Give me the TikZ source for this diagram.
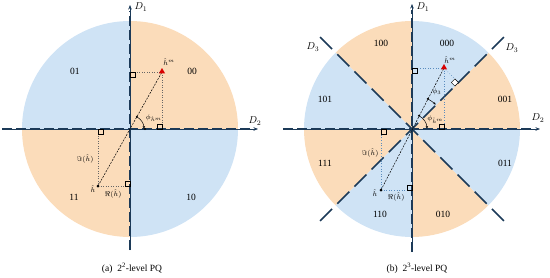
\documentclass[tikz,border=0pt]{standalone}
\usepackage{fontspec}
\setmainfont{Liberation Serif}
\usetikzlibrary{arrows.meta,shapes.geometric}
\definecolor{qblue}{RGB}{207,227,245}
\definecolor{qorange}{RGB}{251,220,186}
\definecolor{axcol}{RGB}{28,58,88}
\definecolor{projblue}{RGB}{90,140,190}
\tikzset{
  axisline/.style={axcol, line width=0.5pt, -{Stealth[length=4.5pt,width=3.5pt]}},
  axisdash/.style={axcol, line width=1.5pt, dash pattern=on 10pt off 4pt, shorten >=6pt},
  dline/.style={axcol, line width=1.5pt, dash pattern=on 17pt off 7.3pt},
  proj/.style={gray!80!black, dotted, line width=0.5pt},
  projb/.style={projblue, dotted, line width=0.6pt},
  vec/.style={black, dash pattern=on 2pt off 1.2pt, line width=0.5pt},
  sq/.style={draw=black, line width=0.4pt},
  lbl/.style={font=\fontsize{9.5}{10}\selectfont, inner sep=0pt},
  sml/.style={font=\fontsize{7.5}{8}\selectfont, inner sep=0pt},
  axl/.style={font=\fontsize{10}{11}\selectfont, inner sep=0pt},
  tri/.style={regular polygon, regular polygon sides=3, fill=red!85!black, minimum size=7pt, inner sep=0pt},
  dotn/.style={circle, fill=black, minimum size=3pt, inner sep=0pt},
  adot/.style={circle, fill=black, minimum size=2.2pt, inner sep=0pt},
  angarr/.style={black, line width=0.5pt, -{Stealth[length=2.5pt,width=2.5pt]}}
}
\begin{document}
\begin{tikzpicture}[x=1pt,y=1pt]
\useasboundingbox (0,0) rectangle (550,277);
% ---------------- left panel ----------------
\begin{scope}[shift={(130,148)}]
  \fill[qorange] (0,0) -- (0:108pt) arc[start angle=0,end angle=90,radius=108pt] -- cycle;
  \fill[qblue] (0,0) -- (90:108pt) arc[start angle=90,end angle=180,radius=108pt] -- cycle;
  \fill[qorange] (0,0) -- (180:108pt) arc[start angle=180,end angle=270,radius=108pt] -- cycle;
  \fill[qblue] (0,0) -- (270:108pt) arc[start angle=270,end angle=360,radius=108pt] -- cycle;
  \coordinate (LO) at (0,0);
  \coordinate (Lxl) at (-128,0);
  \coordinate (Lxr) at (128,0);
  \coordinate (Lyb) at (0,-121);
  \coordinate (Lyt) at (0,124);
  \draw[axisline] (Lxl) -- (Lxr);
  \draw[axisline] (Lyb) -- (Lyt);
  \draw[axisdash] (Lxl) -- (Lxr);
  \draw[axisdash] (Lyb) -- (Lyt);
  \node[axl] (LD1) at (11,122) {$D_1$};
  \node[axl] (LD2) at (125,8) {$D_2$};
  \node[lbl] (L01) at (-55,58) {01};
  \node[lbl] (L00) at (62,58) {00};
  \node[lbl] (L11) at (-56,-68) {11};
  \node[lbl] (L10) at (61,-68) {10};
  % projections
  \coordinate (Lhmx) at (32,0);
  \coordinate (Lhmy) at (0,57);
  \coordinate (Lhx) at (-32,0);
  \coordinate (Lhy) at (0,-57);
  \draw[proj] (32,57) -- (Lhmy);
  \draw[proj] (32,57) -- (Lhmx);
  \draw[proj] (-32,-57) -- (Lhx);
  \draw[proj] (-32,-57) -- (Lhy);
  \draw[sq] (0,57) rectangle ++(5,-5);
  \draw[sq] (32,0) rectangle ++(-5,5);
  \draw[sq] (-32,0) rectangle ++(5,-5);
  \draw[sq] (0,-57) rectangle ++(-5,5);
  \draw[vec] (-32,-57) -- (32,57);
  \node[tri] (Lhm) at (32,57.5) {};
  \node[dotn] (Lh) at (-32,-57) {};
  \node[sml] (Lhml) at (39,67) {$\hat{h}^{m}$};
  \node[sml] (Lhl) at (-37,-60) {$\hat{h}$};
  \node[sml] (LIm) at (-45,-30) {$\Im(\hat{h})$};
  \node[sml] (LRe) at (-17,-65) {$\Re(\hat{h})$};
  % angle
  \draw[angarr] (60.7:14pt) arc[start angle=60.7,end angle=2,radius=14pt];
  \node[adot] (La1) at (60.7:14pt) {};
  \node[adot] (La2) at (0:15pt) {};
  \node[sml] (Lphi) at (24,11) {$\phi_{\hat{h}^m}$};
  \node[font=\fontsize{9.5}{10}\selectfont] (Lcap) at (2,-139) {(a)\enspace 2\textsuperscript{2}-level PQ};
\end{scope}
% ---------------- right panel ----------------
\begin{scope}[shift={(412,148)}]
  \fill[qorange] (0,0) -- (0:108pt) arc[start angle=0,end angle=45,radius=108pt] -- cycle;
  \fill[qblue] (0,0) -- (45:108pt) arc[start angle=45,end angle=90,radius=108pt] -- cycle;
  \fill[qorange] (0,0) -- (90:108pt) arc[start angle=90,end angle=135,radius=108pt] -- cycle;
  \fill[qblue] (0,0) -- (135:108pt) arc[start angle=135,end angle=180,radius=108pt] -- cycle;
  \fill[qorange] (0,0) -- (180:108pt) arc[start angle=180,end angle=225,radius=108pt] -- cycle;
  \fill[qblue] (0,0) -- (225:108pt) arc[start angle=225,end angle=270,radius=108pt] -- cycle;
  \fill[qorange] (0,0) -- (270:108pt) arc[start angle=270,end angle=315,radius=108pt] -- cycle;
  \fill[qblue] (0,0) -- (315:108pt) arc[start angle=315,end angle=360,radius=108pt] -- cycle;
  \coordinate (RO) at (0,0);
  \coordinate (Rxl) at (-129,0);
  \coordinate (Rxr) at (128,0);
  \coordinate (Ryb) at (0,-123);
  \coordinate (Ryt) at (0,125);
  \coordinate (Rda) at (45:130pt);
  \coordinate (Rdb) at (225:130pt);
  \coordinate (Rdc) at (135:130pt);
  \coordinate (Rdd) at (315:130pt);
  \draw[dline] (Rdb) -- (Rda);
  \draw[dline] (Rdc) -- (Rdd);
  \draw[axisline] (Rxl) -- (Rxr);
  \draw[axisline] (Ryb) -- (Ryt);
  \draw[axisdash] (Rxl) -- (Rxr);
  \draw[axisdash] (Ryb) -- (Ryt);
  \node[axl] (RD1) at (11,122) {$D_1$};
  \node[axl] (RD2) at (126,11) {$D_2$};
  \node[axl] (RD3a) at (-99,82) {$D_3$};
  \node[axl] (RD3b) at (100,81) {$D_3$};
  \node[lbl] (R100) at (-31,86) {100};
  \node[lbl] (R000) at (35,86) {000};
  \node[lbl] (R101) at (-87,30) {101};
  \node[lbl] (R001) at (93,30) {001};
  \node[lbl] (R111) at (-87,-34) {111};
  \node[lbl] (R011) at (93,-34) {011};
  \node[lbl] (R110) at (-32,-85) {110};
  \node[lbl] (R010) at (31,-85) {010};
  % projections
  \coordinate (Rhmx) at (32,0);
  \coordinate (Rhmy) at (0,61);
  \coordinate (Rhmd) at (46.5,46.5);
  \coordinate (Rhx) at (-31,0);
  \coordinate (Rhy) at (0,-61);
  \draw[projb] (32,61) -- (Rhmy);
  \draw[projb] (32,61) -- (Rhmx);
  \draw[projb] (32,61) -- (Rhmd);
  \draw[projb] (-31,-61) -- (Rhx);
  \draw[projb] (-31,-61) -- (Rhy);
  \draw[sq] (0,61) rectangle ++(5,-5);
  \draw[sq] (32,0) rectangle ++(-5,5);
  \draw[sq] (-31,0) rectangle ++(5,-5);
  \draw[sq] (0,-61) rectangle ++(-5,5);
  \draw[sq,fill=white] (Rhmd) -- ++(135:5pt) -- ++(225:5pt) -- ++(315:5pt) -- cycle;
  \draw[vec] (-31,-61) -- (32,61);
  \node[tri] (Rhm) at (32,61.5) {};
  \node[dotn] (Rh) at (-31,-61) {};
  \node[sml] (Rhml) at (38,69) {$\hat{h}^{m}$};
  \node[sml] (Rhl) at (-37,-64) {$\hat{h}$};
  \node[sml] (RIm) at (-42,-24) {$\Im(\hat{h})$};
  \node[sml] (RRe) at (-16,-68) {$\Re(\hat{h})$};
  % angles
  \draw[angarr] (62.3:15pt) arc[start angle=62.3,end angle=2,radius=15pt];
  \node[adot] (Ra1) at (62.3:15pt) {};
  \node[sml] (Rphi) at (23.5,9.5) {$\phi_{\hat{h}^m}$};
  \draw[angarr] (62.3:34pt) arc[start angle=62.3,end angle=46,radius=34pt];
  \node[adot] (Ra2) at (62.3:34pt) {};
  \node[sml] (Rphi3) at (25,37) {$\phi_3$};
  \node[font=\fontsize{9.5}{10}\selectfont] (Rcap) at (5,-139) {(b)\enspace 2\textsuperscript{3}-level PQ};
\end{scope}
\end{tikzpicture}
\end{document}
